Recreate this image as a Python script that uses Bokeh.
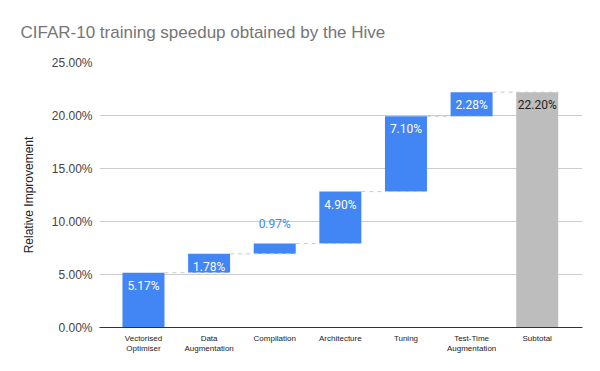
from bokeh.plotting import figure
from bokeh.models import ColumnDataSource, LabelSet, PrintfTickFormatter, FixedTicker
from bokeh.core.properties import value
from bokeh.embed import file_html
from bokeh.resources import INLINE

title_text = "CIFAR-10 training speedup obtained by the Hive"
categories = ["Vectorised\nOptimiser", "Data\nAugmentation", "Compilation", "Architecture",
              "Tuning", "Test-Time\nAugmentation", "Subtotal"]
increments = [5.17, 1.78, 0.97, 4.90, 7.10, 2.28]
subtotal = 22.20
y_ticks = [0, 5, 10, 15, 20, 25]

BLUE = "#4285F4"
GREY = "#BDBDBD"
W = 0.64

xs = list(range(len(categories)))
bottoms, tops = [], []
acc = 0.0
for v in increments:
    bottoms.append(acc)
    acc += v
    tops.append(acc)
bottoms.append(0.0)
tops.append(subtotal)
values = increments + [subtotal]
colors = [BLUE] * len(increments) + [GREY]

p = figure(width=590, height=365, x_range=(-0.67, 6.69), y_range=(0, 25),
           output_backend="svg", toolbar_location=None,
           min_border_left=99, min_border_right=8, min_border_top=62, min_border_bottom=38)
p.outline_line_color = None
p.background_fill_color = "white"

p.title.text = title_text
p.title.text_font = "Liberation Sans"
p.title.text_font_size = "17px"
p.title.text_font_style = "normal"
p.title.text_color = "#757575"
p.title.align = "left"
p.title.vertical_align = "top"
p.title.offset = -79
p.title.standoff = 37

p.xgrid.grid_line_color = None
p.ygrid.grid_line_color = "#CCCCCC"
p.ygrid.ticker = FixedTicker(ticks=y_ticks)

p.yaxis.ticker = FixedTicker(ticks=y_ticks)
p.yaxis.formatter = PrintfTickFormatter(format="%.2f%%")
p.yaxis.axis_line_color = None
p.yaxis.major_tick_line_color = None
p.yaxis.minor_tick_line_color = None
p.yaxis.major_tick_out = 0
p.yaxis.major_tick_in = 0
p.yaxis.major_label_text_font = "Liberation Sans"
p.yaxis.major_label_text_font_size = "12px"
p.yaxis.major_label_text_color = "#444444"
p.yaxis.major_label_standoff = 7
p.yaxis.axis_label = "Relative Improvement"
p.yaxis.axis_label_text_font = "Liberation Sans"
p.yaxis.axis_label_text_font_size = "12px"
p.yaxis.axis_label_text_font_style = "normal"
p.yaxis.axis_label_text_color = "#222222"
p.yaxis.axis_label_standoff = 13

p.xaxis.ticker = FixedTicker(ticks=xs)
p.xaxis.major_label_overrides = {i: c for i, c in enumerate(categories)}
p.xaxis.axis_line_color = "#333333"
p.xaxis.major_tick_line_color = None
p.xaxis.minor_tick_line_color = None
p.xaxis.major_label_text_font = "Liberation Sans"
p.xaxis.major_label_text_font_size = "8px"
p.xaxis.major_label_text_color = "#222222"
p.xaxis.major_label_standoff = 0

src = ColumnDataSource(dict(x=xs, bottom=bottoms, top=tops, color=colors))
p.vbar(x="x", width=W, bottom="bottom", top="top", fill_color="color", line_color=None, source=src)

# connectors
cx0 = [xs[i] + W / 2 for i in range(len(increments))]
cx1 = [xs[i + 1] + W / 2 for i in range(len(increments))]
cy = tops[:len(increments)]
p.segment(x0=cx0, y0=cy, x1=cx1, y1=cy, line_color="#CCCCCC", line_width=1, line_dash="4 4")

# labels
inside = [v >= 1.2 for v in values]
lab = ColumnDataSource(dict(
    x=xs,
    y=tops,
    text=["%.2f%%" % v for v in values],
    color=[("#FFFFFF" if ins else BLUE) if i < len(increments) else "#222222"
           for i, ins in enumerate(inside)],
    yoff=[-13 if ins else 20 for ins in inside],
))
labels = LabelSet(x="x", y="y", text="text", source=lab, text_color="color", y_offset="yoff",
                  text_align="center", text_baseline="middle", text_font=value("Roboto"),
                  text_font_size="12px")
p.add_layout(labels)

open("out.html", "w").write(file_html(p, INLINE))
